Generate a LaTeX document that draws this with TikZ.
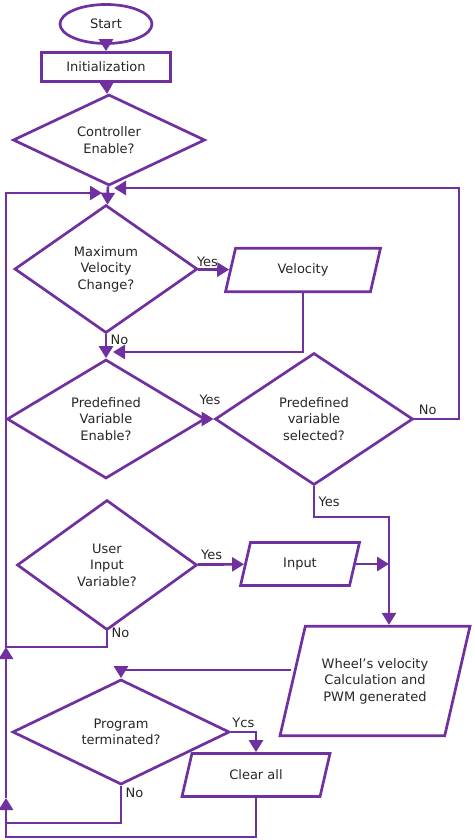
\documentclass[tikz,border=0pt]{standalone}
\usepackage{fontspec}
\setmainfont{DejaVu Sans}
\usepackage{tikz}
\usetikzlibrary{arrows.meta,shapes.geometric}
\definecolor{vio}{RGB}{112,48,160}

\begin{document}
\begin{tikzpicture}[x=1pt,y=-1pt,->,>={Triangle[width=14pt,length=12pt]},line width=2.7pt,color=vio,
					lbl/.style={font=\fontsize{13}{16.5}\selectfont,text=black!85},
					main node/.style={draw,lbl,align=center,inner sep=0pt},
					term node/.style={main node,ellipse},
					proc node/.style={main node,rectangle},
					dec node/.style={main node,diamond},
					io node/.style={main node,trapezium,trapezium left angle=77,trapezium right angle=103,trapezium stretches body}]
					
					\useasboundingbox (0,0) rectangle (474,840);
					
					\node[term node,minimum width=92pt,minimum height=39pt] (1) at (106,24) {Start};
					\node[proc node,minimum width=129pt,minimum height=29pt] (2) at (106,67) {Initialization};
					\node[dec node,minimum width=192pt,minimum height=91pt] (3) at (109,140) {Controller\\Enable?};
					\node[dec node,minimum width=183pt,minimum height=128pt] (4) at (106,269) {Maximum\\Velocity\\Change?};
					\node[io node,minimum width=155pt,inner ysep=15.5pt] (5) at (303,270) {Velocity};
					\node[dec node,minimum width=198pt,minimum height=119pt] (6) at (106,419) {Predefined\\Variable\\Enable?};
					\node[dec node,minimum width=198pt,minimum height=132pt] (7) at (314,419) {Predefined\\variable\\selected?};
					\node[dec node,minimum width=180pt,minimum height=130pt] (8) at (107,565) {User\\Input\\Variable?};
					\node[io node,minimum width=119pt,inner ysep=15.5pt] (9) at (300,564) {Input};
					\node[io node,minimum width=190pt,inner ysep=32pt] (10) at (375,681) {Wheel’s velocity\\Calculation and\\PWM generated};
					\node[dec node,minimum width=217pt,minimum height=90pt] (11) at (121,732) {Program\\terminated?};
					\node[io node,minimum width=148pt,inner ysep=16.5pt] (12) at (256,775) {Clear all};
					
					\coordinate (j0) at (114,188);
					\coordinate (j1) at (102,193);
					\coordinate (j2) at (113,352);
					\coordinate (r1) at (459,188);
					\coordinate (c2) at (389,517);
					\coordinate (c3) at (6,823);
					\coordinate (c4) at (6,837);
					\coordinate (c5) at (6,647);
					\coordinate (c6) at (6,798);
					
					\path
					(1) edge (2)
					(2) edge (3)
					(3) edge (4)
					(4) edge node[lbl,above,pos=0.3,inner sep=1pt] {Yes} (5)
					(4) edge node[lbl,right,pos=0.25] {No} (6)
					(6) edge node[lbl,above=10pt] {Yes} (7)
					(8) edge node[lbl,above,pos=0.3] {Yes} (9)
					(9) edge (9 -| c2);
					
					\draw (5) |- (j2);
					\draw (7) -| node[lbl,above,pos=0.15] {No} (r1) -- (j0);
					\draw (7) |- node[lbl,right,pos=0.25] {Yes} (c2) -- (c2 |- 10.north);
					\draw (8) |- node[lbl,right,pos=0.05] {No} (c5) |- (j1);
					\draw ([yshift=11pt]10.west) -| (11);
					\draw (11) -| node[lbl,above,pos=0.25] {Ycs} (12);
					\draw[-] (11) |- node[lbl,right,pos=0.1] {No} (c3);
					\draw (12) |- (c4) -- (c6);
					\draw (c6) -- (c5);
					
					\end{tikzpicture}
\end{document}
